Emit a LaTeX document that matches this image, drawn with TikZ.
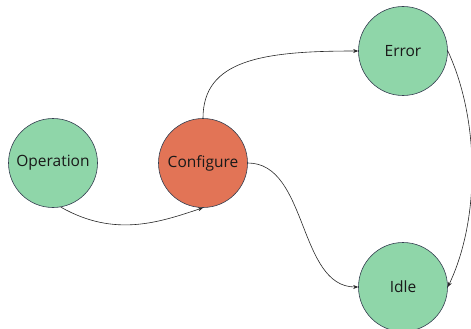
\documentclass[tikz,border=0pt]{standalone}
\usepackage{fontspec}
\setmainfont{Open Sans}
\usetikzlibrary{arrows.meta}
\definecolor{stgreen}{RGB}{143,214,169}
\definecolor{stred}{RGB}{226,116,86}
\definecolor{stborder}{RGB}{52,62,80}
\definecolor{stedge}{RGB}{40,40,40}
\tikzset{
  state/.style={circle, draw=stborder, line width=0.6pt, minimum size=89pt, inner sep=0pt,
    font=\fontsize{15.5}{17}\selectfont, text=black!90},
  okstate/.style={state, fill=stgreen},
  curstate/.style={state, fill=stred},
  trans/.style={draw=stedge, line width=0.6pt, -{Stealth[length=5pt,width=4pt]}}
}
\begin{document}
\begin{tikzpicture}[x=1pt,y=-1pt]
\useasboundingbox (0,0) rectangle (471,329);
\begin{scope}
\clip (0,0) rectangle (471,329);
\node[okstate] (op) at (53,163) {Operation};
\node[curstate] (cf) at (203,163) {Configure};
\node[okstate] (er) at (403,51) {Error};
\node[okstate] (id) at (403,287) {Idle};
\draw[trans] (op.-80) .. controls (115,238) and (160,222) .. (cf.south);
\draw[trans] (cf.north) .. controls (203,60) and (262,51) .. (er.west);
\draw[trans] (cf.east) .. controls (308,163) and (298,287) .. (id.west);
\draw[trans] (er.east) .. controls (480,120) and (480,220) .. (id.east);
\end{scope}
\end{tikzpicture}
\end{document}
